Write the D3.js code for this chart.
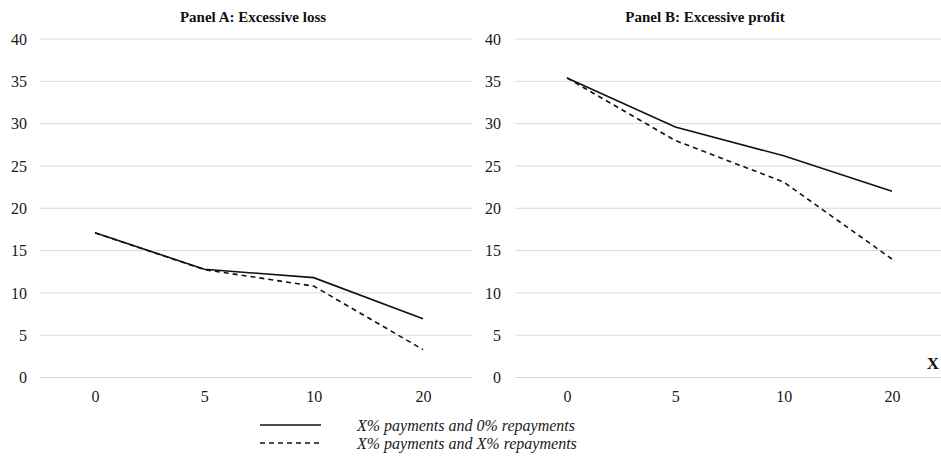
<!DOCTYPE html>
<html>
<head>
<meta charset="utf-8">
<script src="https://cdn.jsdelivr.net/npm/d3@7"></script>
<style>
  body { margin: 0; background: #fff; }
</style>
</head>
<body>
<svg id="chart" width="941" height="458" font-family="Liberation Serif"></svg>
<script>
// Payment share X (%) on the horizontal axis
const categories = ["0", "5", "10", "20"];
const yTicks = [0, 5, 10, 15, 20, 25, 30, 35, 40];

// Panel A: Excessive loss
const lossNoRepay = [17.1, 12.8, 11.8, 6.95];
const lossRepay   = [17.1, 12.75, 10.8, 3.3];

// Panel B: Excessive profit
const profitNoRepay = [35.4, 29.6, 26.2, 22.0];
const profitRepay   = [35.4, 28.0, 23.1, 14.0];

const seriesNames = ["X% payments and 0% repayments", "X% payments and X% repayments"];

const svg = d3.select("#chart");

const panels = [
  { title: "Panel A: Excessive loss", titleX: 253, gridX0: 40, gridX1: 472, labelX: 27,
    xRange: [95, 423], data: [lossNoRepay, lossRepay] },
  { title: "Panel B: Excessive profit", titleX: 705, gridX0: 515, gridX1: 941, labelX: 501,
    xRange: [567, 892], data: [profitNoRepay, profitRepay] }
];

const y = d3.scaleLinear().domain([0, 40]).range([377.5, 39]);
const dashes = [null, "5,4"];

panels.forEach(p => {
  const g = svg.append("g");
  const x = d3.scalePoint().domain(categories).range(p.xRange);

  // Horizontal gridlines
  g.selectAll("line.grid").data(yTicks).join("line")
    .attr("x1", p.gridX0).attr("x2", p.gridX1)
    .attr("y1", d => y(d)).attr("y2", d => y(d))
    .attr("stroke", "#d9d9d9").attr("stroke-width", 1);

  // Y axis labels
  const yAxis = d3.axisLeft(y).tickValues(yTicks).tickSize(0).tickPadding(0);
  g.append("g").attr("transform", `translate(${p.labelX},0)`).call(yAxis)
    .attr("font-family", "Liberation Serif").attr("font-size", 16)
    .call(a => a.select(".domain").remove())
    .call(a => a.selectAll("text").attr("fill", "#1a1a1a"));

  // X axis labels
  const xAxis = d3.axisBottom(x).tickSize(0).tickPadding(0);
  g.append("g").attr("transform", "translate(0,391)").call(xAxis)
    .attr("font-family", "Liberation Serif").attr("font-size", 16)
    .call(a => a.select(".domain").remove())
    .call(a => a.selectAll("text").attr("fill", "#1a1a1a"));

  // Title
  g.append("text").attr("x", p.titleX).attr("y", 22)
    .attr("text-anchor", "middle")
    .attr("font-family", "Liberation Serif").attr("font-weight", "bold").attr("font-size", 15)
    .attr("fill", "#111").text(p.title);

  // Series lines
  const line = d3.line().x((d, i) => x(categories[i])).y(d => y(d));
  p.data.forEach((vals, k) => {
    g.append("path").datum(vals)
      .attr("d", line).attr("fill", "none")
      .attr("stroke", "#111").attr("stroke-width", 1.6)
      .attr("stroke-dasharray", dashes[k]);
  });
});

// Axis name
svg.append("text").attr("x", 933).attr("y", 369).attr("text-anchor", "middle")
  .attr("font-family", "Liberation Serif").attr("font-weight", "bold").attr("font-size", 17)
  .attr("fill", "#111").text("X");

// Legend
const legend = svg.append("g");
seriesNames.forEach((name, k) => {
  const ly = 425 + k * 18;
  legend.append("line").attr("x1", 260).attr("x2", 321).attr("y1", ly).attr("y2", ly)
    .attr("stroke", "#111").attr("stroke-width", 1.4).attr("stroke-dasharray", dashes[k]);
  legend.append("text").attr("x", 357).attr("y", ly + 6)
    .attr("font-family", "Liberation Serif").attr("font-style", "italic").attr("font-size", 16)
    .attr("fill", "#1a1a1a").text(name);
});
</script>
</body>
</html>
